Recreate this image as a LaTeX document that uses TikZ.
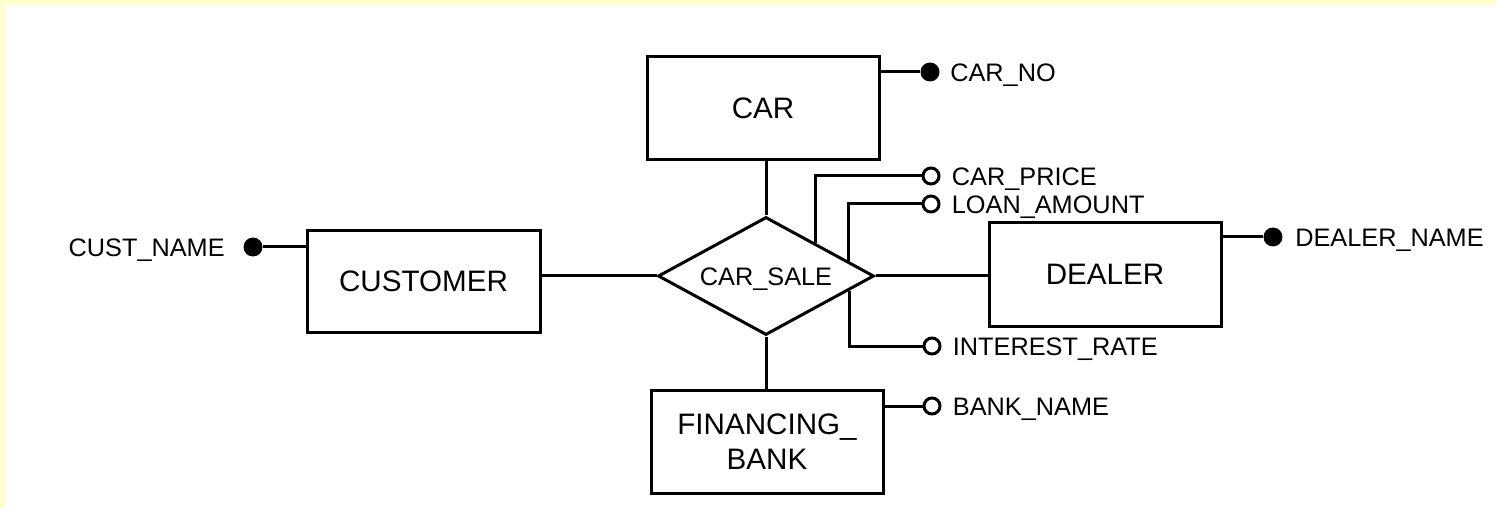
\documentclass[tikz,border=0pt]{standalone}
\usepackage{fontspec}
\setmainfont{Liberation Sans}
\usetikzlibrary{shapes.geometric,calc}
\definecolor{bandyellow}{HTML}{FFFFCC}
\begin{document}
\begin{tikzpicture}[x=0.5pt,y=-0.5pt,
  every node/.style={font=\fontsize{12.65}{17.5}\selectfont},
  entity/.style={draw, line width=1.5pt, rectangle, minimum width=116pt, minimum height=51.5pt, inner sep=0pt, align=center, font=\fontsize{14.8}{17.5}\selectfont},
  rel/.style={draw, line width=1.5pt, diamond, aspect=1.83, minimum width=108pt, minimum height=59pt, inner sep=0pt, text height=9.05pt, text depth=0pt},
  keyattr/.style={circle, fill=black, minimum size=9.5pt, inner sep=0pt},
  attr/.style={circle, draw, fill=white, line width=1.5pt, minimum size=8pt, inner sep=0pt},
  lbl/.style={inner sep=0pt, text height=9.05pt, text depth=0pt},
  conn/.style={line width=1.5pt}
]
\useasboundingbox (0,0) rectangle (1496,508);
\fill[white] (0,0) rectangle (1496,508);
\fill[bandyellow] (0,0) rectangle (1496,5);
\fill[bandyellow] (0,0) rectangle (5,508);

% entities and relationship
\node[entity] (car) at (763,108.5) {CAR};
\node[entity, minimum width=116.5pt, minimum height=50.5pt] (cust) at (423.5,281.5) {CUSTOMER};
\node[entity] (dealer) at (1105,274.5) {DEALER};
\node[entity] (bank) at (767,441.5) {FINANCING\_\\BANK};
\node[rel] (sale) at (766,276) {CAR\_SALE};

% relationship connectors
\draw[conn] (sale.north |- car.south) -- (sale.north);
\draw[conn] (cust.east |- sale.west) -- (sale.west);
\draw[conn] (sale.east) -- (dealer.west |- sale.east);
\draw[conn] (sale.south) -- (sale.south |- bank.north);

% CAR_NO
\node[keyattr] (carno) at (930,72) {};
\node[lbl, anchor=west] (carnol) at ([xshift=5pt]carno.east) {CAR\_NO};
\draw[conn] (carno -| car.east) -- (carno);

% CAR_PRICE
\node[attr] (price) at (931,176) {};
\node[lbl, anchor=west] (pricel) at ([xshift=5.5pt]price.east) {CAR\_PRICE};
\coordinate (pricefoot) at ($(sale.north)!0.4537!(sale.east)$);
\draw[conn] (pricefoot) |- (price);

% LOAN_AMOUNT
\node[attr] (loan) at (931,204) {};
\node[lbl, anchor=west] (loanl) at ([xshift=5.5pt]loan.east) {LOAN\_AMOUNT};
\coordinate (loanfoot) at ($(sale.north)!0.75!(sale.east)$);
\draw[conn] (loanfoot) |- (loan);

% INTEREST_RATE
\node[attr] (rate) at (932,346) {};
\node[lbl, anchor=west] (ratel) at ([xshift=5.5pt]rate.east) {INTEREST\_RATE};
\coordinate (ratefoot) at ($(sale.south)!0.759!(sale.east)$);
\draw[conn] (ratefoot) |- (rate);

% BANK_NAME
\node[attr] (bname) at (932,406) {};
\node[lbl, anchor=west] (bnamel) at ([xshift=5.5pt]bname.east) {BANK\_NAME};
\draw[conn] (bname -| bank.east) -- (bname);

% DEALER_NAME
\node[keyattr] (dname) at (1273,237) {};
\node[lbl, anchor=west] (dnamel) at ([xshift=6pt]dname.east) {DEALER\_NAME};
\draw[conn] (dname -| dealer.east) -- (dname);

% CUST_NAME
\node[keyattr] (cname) at (253,247) {};
\node[lbl, anchor=east] (cnamel) at ([xshift=-9pt]cname.west) {CUST\_NAME};
\draw[conn] (cname) -- (cname -| cust.west);
\end{tikzpicture}
\end{document}
